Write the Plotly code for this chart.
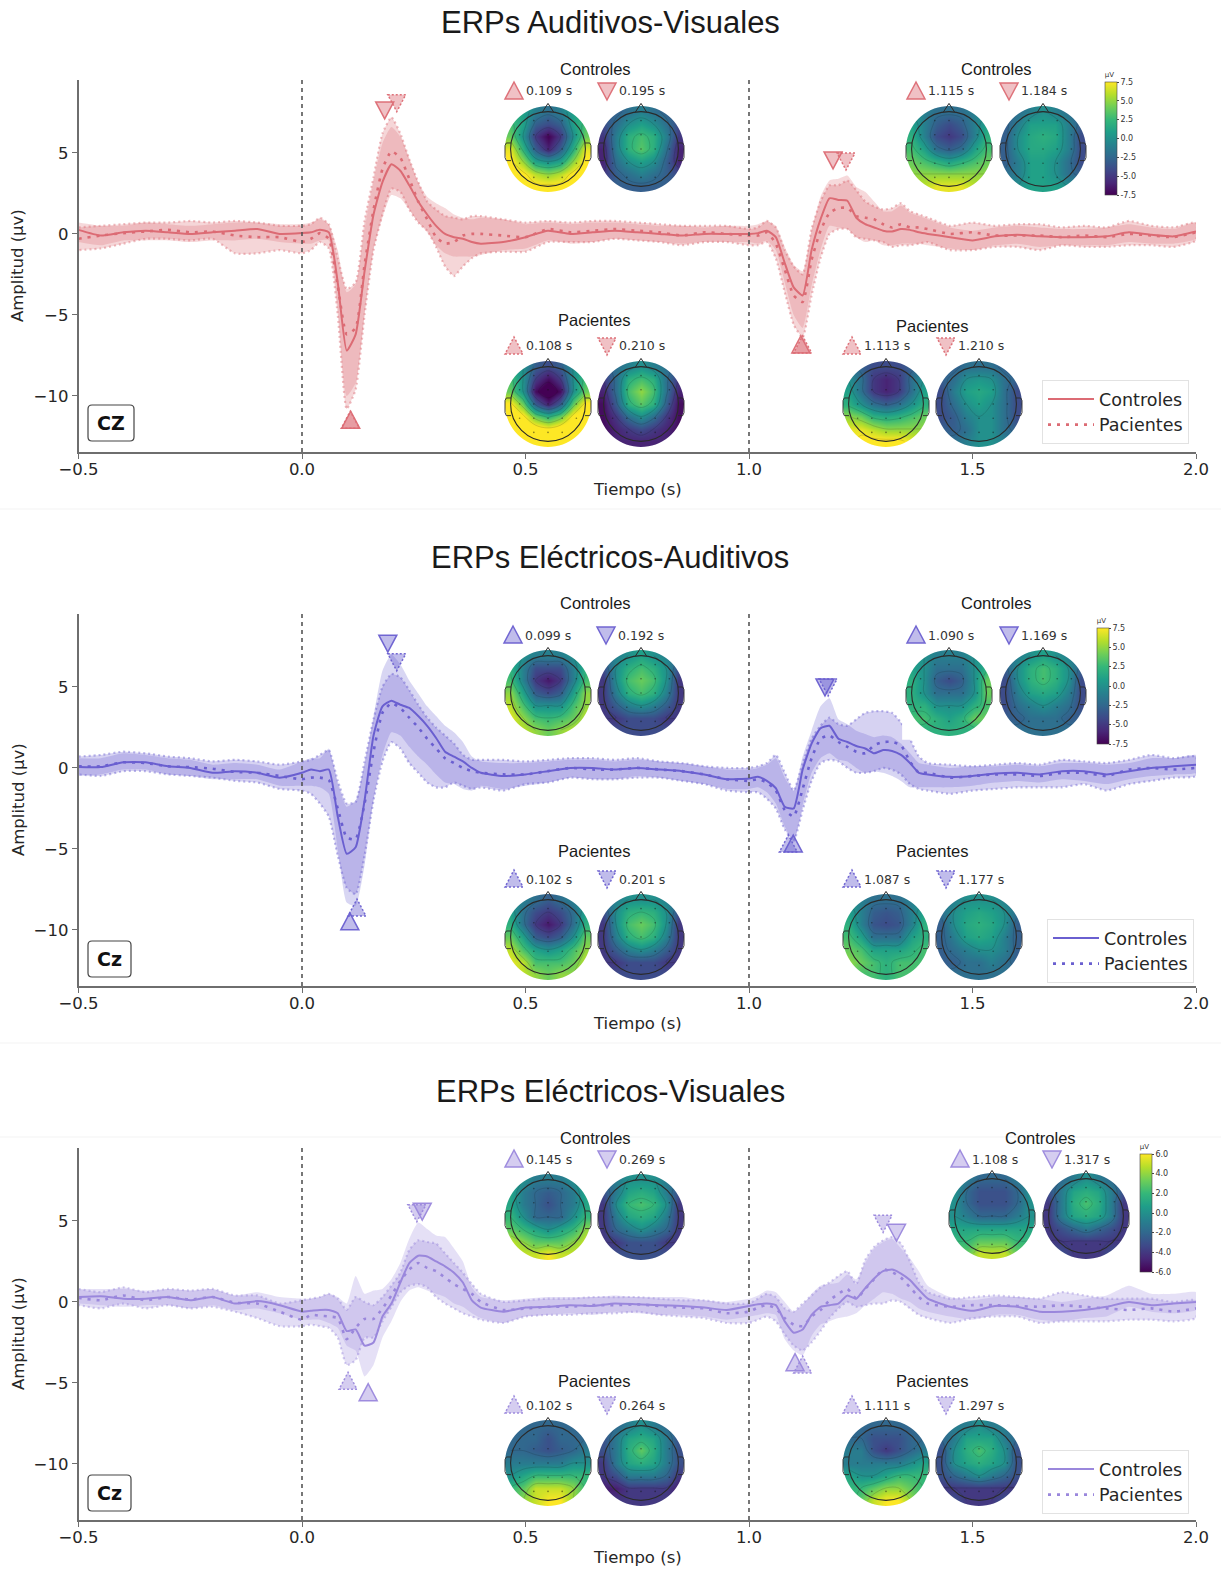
import numpy as np
import plotly.graph_objects as go

W, H = 1221, 1570
TIME = [-.50,-.45,-.40,-.35,-.30,-.25,-.20,-.15,-.10,-.05,
 0,.02,.04,.06,.08,.10,.12,.14,.16,.18,.20,.22,.24,.26,.28,.30,.32,.34,.36,.38,
 .40,.45,.50,.55,.60,.65,.70,.75,.80,.85,.90,.95,
 1,1.02,1.04,1.06,1.08,1.10,1.12,1.14,1.16,1.18,1.20,1.22,1.24,1.26,1.28,1.30,1.32,1.34,1.36,1.38,
 1.40,1.45,1.50,1.55,1.60,1.65,1.70,1.75,1.80,1.85,1.90,1.95,
 2.0]

AV_C_MEAN = [.25,-.10,.10,.20,.10,.00,.10,.20,.30,.00,
 .05,.10,.25,.10,-3.0,-7.2,-6.2,-2.3,1.2,3.2,4.3,3.9,3.0,2.0,1.2,.5,.0,-.2,-.3,-.5,
 -.6,-.5,-.2,.2,.0,.1,.2,.1,.0,-.1,.0,.0,
 .0,.05,.2,-.2,-1.8,-3.3,-3.8,-1.0,.9,2.2,2.1,2.05,1.0,.6,.4,.2,.15,.3,.25,.1,
 .0,-.2,-.4,-.15,-.05,-.15,-.2,-.2,-.15,.1,-.05,-.15,
 .15]
AV_P_MEAN = [-.3,-.1,.05,.15,.25,.1,.15,-.1,-.2,-.2,
 -.5,-.3,.05,-.3,-3.2,-6.2,-5.8,-1.9,1.5,4.0,5.1,4.7,3.4,2.0,.9,-.2,-.6,-.5,-.1,.0,
 .0,-.1,-.2,.3,.1,.2,.3,.2,.1,-.1,.1,.0,
 -.1,-.1,.1,-.6,-2.2,-3.8,-4.2,-1.6,.2,1.3,1.6,1.6,1.1,1.0,.9,.6,.4,.6,.4,.4,
 .3,.0,.1,-.1,-.1,-.1,-.2,-.1,-.2,.0,-.1,-.2,
 .1]
AV_C_HI = [.7,.5,.5,.7,.6,.5,.6,.7,.7,.6,
 .6,.7,.9,.6,-1.0,-3.6,-3.1,.3,3.2,5.6,6.6,6.0,4.7,3.2,2.3,1.9,1.6,1.2,1.0,.9,
 1.0,.9,.6,.7,.6,.7,.7,.6,.5,.5,.4,.5,
 .5,.6,.8,.5,-.8,-1.9,-2.3,.2,2.3,3.3,3.4,3.6,2.9,2.6,2.0,1.4,1.4,1.75,1.3,1.1,
 .9,.4,.2,.4,.5,.4,.3,.3,.4,.6,.4,.3,
 .7]
AV_C_LO = [-.5,-.7,-.4,-.4,-.4,-.5,-.4,-.4,-.3,-.5,
 -.6,-.6,-.4,-.4,-4.5,-10.0,-9.2,-5.0,-1.0,1.0,2.4,2.2,1.5,.7,.1,-.7,-1.2,-1.4,-1.4,-1.4,
 -1.3,-1.0,-.9,-.4,-.6,-.5,-.3,-.4,-.5,-.6,-.5,-.5,
 -.5,-.6,-.4,-1.0,-3.0,-5.0,-5.8,-3.2,-1.0,.5,.4,.3,-.2,-.5,-.4,-.7,-.7,-.6,-.6,-.6,
 -.7,-.9,-1.0,-.7,-.6,-.8,-.7,-.7,-.7,-.5,-.6,-.6,
 -.3]
AV_P_HI = [.4,.5,.6,.7,.7,.8,.7,.8,.7,.5,
 .5,.6,1.0,.6,-1.5,-3.4,-3.0,.8,3.5,6.2,7.2,6.2,4.6,3.2,2.0,1.5,1.1,1.0,.9,1.1,
 1.1,.9,.7,.8,.7,.8,.8,.7,.6,.5,.5,.5,
 .3,.4,.8,.4,-1.0,-2.0,-2.5,.3,2.0,3.0,3.0,3.3,2.7,2.0,1.7,1.5,1.6,1.9,1.4,1.2,
 1.0,.5,.7,.5,.6,.6,.4,.5,.4,.8,.5,.4,
 .7]
AV_P_LO = [-1.0,-.9,-.6,-.3,-.3,-.4,-.3,-1.2,-1.2,-1.0,
 -1.2,-1.0,-.5,-.9,-5.0,-10.8,-9.6,-5.0,-1.0,1.2,2.8,2.6,1.5,.7,.2,-.8,-2.0,-2.6,-2.0,-1.5,
 -1.2,-1.1,-1.1,-.5,-.5,-.5,-.3,-.4,-.5,-.7,-.5,-.5,
 -.7,-.7,-.5,-1.5,-3.6,-5.6,-6.4,-3.8,-1.5,.0,.3,.3,-.2,-.3,-.4,-.5,-.8,-.7,-.7,-.6,
 -.5,-1.0,-1.0,-.8,-.8,-1.0,-.7,-.8,-.8,-.7,-.7,-.8,
 -.4]

EA_C_MEAN = [.05,.05,.35,.35,.1,.0,-.3,-.2,-.3,-.6,
 -.3,-.1,-.2,-.1,-3.0,-5.3,-4.9,-2.0,2.0,3.8,4.15,3.9,3.7,3.2,2.6,1.85,1.0,.7,.4,.0,
 -.3,-.5,-.4,-.2,.0,.0,-.1,.0,-.1,-.2,-.4,-.7,
 -.65,-.55,-.8,-1.25,-2.4,-2.5,-.1,1.5,2.45,2.6,1.8,1.6,1.35,1.2,.9,1.1,1.05,.8,.3,-.3,
 -.4,-.55,-.5,-.35,-.3,-.4,-.2,-.2,-.4,-.2,.0,.1,
 .2]
EA_P_MEAN = [.1,.1,.35,.3,.1,.05,-.05,-.25,-.3,-.5,
 -.7,-.6,-.6,-.75,-2.5,-4.3,-4.4,-2.2,1.0,3.4,4.0,3.7,3.1,2.5,1.8,1.2,.6,.3,.0,-.2,
 -.3,-.4,-.4,-.2,.0,-.1,-.1,.0,-.1,-.2,-.4,-.7,
 -.8,-.7,-.9,-1.4,-2.6,-3.0,-1.3,.6,1.8,2.0,1.6,1.3,1.0,.9,1.4,1.6,1.6,1.4,.4,-.3,
 -.3,-.6,-.5,-.4,-.4,-.5,-.3,-.3,-.5,-.1,.0,-.1,
 .0]
EA_C_HI = [.6,.6,.9,.8,.6,.5,.2,.3,.2,-.1,
 .4,.6,.6,1.2,-1.0,-2.4,-2.0,.2,3.2,6.0,7.0,6.4,5.4,4.6,3.8,3.2,2.6,2.2,1.6,.7,
 .4,.3,.3,.4,.5,.5,.4,.5,.4,.3,.1,-.1,
 -.1,.0,.2,.6,-.6,-1.4,.7,2.3,3.8,4.3,3.0,2.7,2.3,2.1,1.9,2.0,1.9,1.5,.9,.3,
 .2,.0,.1,.1,.2,.1,.3,.3,.2,.3,.6,.6,
 .8]
EA_C_LO = [-.5,-.4,-.1,-.1,-.4,-.5,-.7,-.7,-.7,-1.1,
 -1.1,-1.1,-1.2,-1.6,-5.0,-8.3,-8.5,-6.0,-2.0,.8,2.2,2.0,1.3,.7,.2,-.4,-.9,-1.0,-1.3,-1.4,
 -1.1,-1.3,-1.1,-.9,-.6,-.7,-.7,-.5,-.6,-.8,-1.0,-1.3,
 -1.3,-1.2,-1.5,-2.2,-3.6,-4.6,-2.3,-.3,.6,.9,.5,.4,.0,-.3,-.2,-.3,-.5,-.8,-1.2,-1.2,
 -1.2,-1.2,-1.1,-.9,-.8,-.9,-.7,-.8,-1.0,-.7,-.5,-.4,
 -.3]
EA_P_HI = [.7,.8,1.0,.9,.7,.6,.4,.5,.4,.2,
 .4,.5,.8,1.1,-.8,-2.2,-2.1,.4,3.0,5.0,5.8,5.6,4.8,3.9,3.1,2.5,2.0,1.5,.8,.5,
 .5,.5,.4,.5,.6,.6,.5,.6,.4,.3,.1,.0,
 .0,.1,.3,.8,-.3,-1.4,.3,1.8,2.6,3.1,2.7,2.6,3.0,3.4,3.5,3.5,3.4,2.8,1.8,.7,
 .3,.2,.1,.2,.3,.2,.5,.4,.3,.5,.8,.6,
 .7]
EA_P_LO = [-.4,-.5,-.2,-.2,-.4,-.5,-.6,-.8,-.9,-1.3,
 -1.4,-1.6,-2.2,-3.0,-5.4,-7.4,-7.8,-5.4,-2.0,.4,1.6,1.2,.3,-.3,-.9,-1.2,-1.2,-.9,-1.1,-1.3,
 -1.2,-1.4,-1.0,-.9,-.6,-.7,-.7,-.6,-.6,-.8,-1.0,-1.4,
 -1.5,-1.5,-1.9,-2.5,-3.8,-4.5,-2.6,-.8,.3,.5,.4,.0,-.3,-.3,-.2,.0,-.1,-.4,-1.0,-1.3,
 -1.4,-1.6,-1.4,-1.3,-1.2,-1.2,-1.2,-1.0,-1.4,-1.0,-.8,-.6,
 -.5]

EV_C_MEAN = [.3,.35,.2,.2,.3,.1,.3,-.1,.05,-.2,
 -.6,-.55,-.5,-.5,-.7,-1.8,-1.7,-2.7,-2.5,-.9,-.1,1.2,2.4,2.85,2.8,2.5,2.2,1.8,1.2,.1,
 -.35,-.6,-.35,-.3,-.2,-.25,-.1,-.15,-.2,-.25,-.35,-.5,
 -.25,-.15,-.1,-.2,-1.2,-1.9,-1.7,-.8,-.3,-.2,-.1,.4,.2,.85,1.45,1.9,2.0,1.75,1.35,.75,
 .2,-.3,-.55,-.25,-.3,-.6,-.6,-.5,-.3,.0,-.2,-.1,
 .0]
EV_P_MEAN = [.25,.1,.4,.1,.3,.15,.3,-.05,-.1,-.6,
 -1.1,-.8,-.85,-.9,-1.0,-2.3,-1.6,-1.05,-1.05,-.4,.4,1.3,2.0,2.4,2.1,1.9,1.5,1.1,.8,.5,
 .0,-.5,-.4,-.3,-.3,-.2,-.2,-.15,-.25,-.35,-.4,-.7,
 -.6,-.35,-.2,-.4,-1.0,-1.4,-1.5,-.9,-.5,.1,.5,.8,.2,.8,1.4,2.0,1.85,1.5,.9,.3,
 -.1,-.3,-.2,-.2,-.25,-.3,-.2,-.3,-.4,-.5,-.4,-.6,
 -.4]
EV_C_HI = [.8,.8,.8,.7,.8,.7,.8,.4,.6,.3,
 .2,.2,.3,.5,.3,-.1,1.6,.5,.7,.8,1.4,2.4,3.9,4.9,4.5,4.1,4.0,3.3,2.5,.9,
 .3,.1,.2,.3,.3,.3,.4,.3,.3,.3,.1,.0,
 .2,.4,.7,.6,.0,-.6,-.2,.5,1.0,1.1,1.2,1.7,1.4,2.4,3.3,3.7,3.9,3.3,2.7,1.9,
 1.0,.3,.1,.3,.3,.2,.0,.2,.4,1.0,.5,.5,
 .6]
EV_C_LO = [-.1,-.2,-.3,-.2,-.2,-.4,-.2,-.5,-.4,-.7,
 -1.1,-1.1,-1.1,-1.3,-1.6,-2.7,-3.0,-4.6,-3.9,-2.2,-1.2,.0,.7,.9,.7,.5,.3,-.1,-.3,-.7,
 -1.0,-1.3,-.9,-.8,-.7,-.8,-.6,-.7,-.8,-.8,-.9,-1.1,
 -.9,-.8,-.7,-.8,-2.3,-3.0,-3.3,-2.1,-1.4,-1.2,-1.0,-.9,-.7,-.2,.2,.6,.5,.2,.0,-.4,
 -.6,-.9,-1.1,-.8,-.8,-1.1,-1.2,-1.0,-.9,-.3,-.6,-.7,
 -.5]
EV_P_HI = [.8,.6,.9,.6,.8,.7,.8,.4,.4,-.1,
 .1,.2,.3,.5,.2,-.5,.3,.0,-.2,.3,1.0,1.8,3.2,3.8,3.7,3.6,3.0,2.4,1.8,1.1,
 .5,.0,.1,.2,.2,.3,.3,.3,.2,.1,.1,-.1,
 -.1,.2,.5,.3,-.4,-.6,-.1,.4,.9,1.2,1.6,1.9,1.1,2.6,3.4,3.8,4.0,3.6,2.5,1.2,
 .6,.2,.3,.4,.3,.2,.6,.4,.2,.2,.2,.0,
 .1]
EV_P_LO = [-.2,-.4,-.1,-.4,-.2,-.4,-.3,-.6,-1.0,-1.5,
 -1.5,-1.4,-1.5,-1.6,-2.2,-3.9,-3.6,-2.2,-2.2,-1.2,-.3,.6,1.0,1.1,.9,.3,-.1,-.4,-.7,-.9,
 -1.1,-1.3,-.9,-.8,-.8,-.7,-.7,-.6,-.8,-.9,-1.0,-1.3,
 -1.3,-1.1,-.9,-1.2,-2.0,-2.7,-3.0,-2.5,-1.8,-1.0,-.4,.0,-.3,-.2,-.1,-.1,.1,.0,-.4,-.8,
 -1.0,-1.3,-1.0,-.9,-.9,-1.3,-1.2,-1.2,-1.2,-1.1,-1.1,-1.2,
 -1.0]

AV_C_PEAKS = [(.109,-11.5,1),(.185,7.65,0),(1.116,-6.85,1),(1.188,4.57,0)]
AV_P_PEAKS = [(.108,-11.5,1),(.212,8.1,0),(1.12,-6.85,1),(1.217,4.5,0)]
EA_C_PEAKS = [(.107,-9.5,1),(.192,7.7,0),(1.099,-4.7,1),(1.17,5.0,0)]
EA_P_PEAKS = [(.123,-8.65,1),(.212,6.55,0),(1.088,-4.7,1),(1.177,5.0,0)]
EV_C_PEAKS = [(.148,-5.6,1),(.269,5.6,0),(1.103,-3.75,1),(1.33,4.3,0)]
EV_P_PEAKS = [(.103,-4.9,1),(.257,5.5,0),(1.12,-3.9,1),(1.30,4.85,0)]

TOPO_AV = [
 [[2,1,-1,-2,-1,1,2],[3,1,-3,-4,-3,1,3],[4,0,-5,-7.5,-5,0,4],[7,2,-3,-6,-3,2,7],[8,5,1,0,1,5,8],[8,8,6,5,6,8,8],[8,8,8,8,8,8,8]],
 [[-3,-3,-2,-1,-2,-3,-3],[-4,-2,0,1,0,-2,-4],[-5,-1,2,3,2,-1,-5],[-6,-1,2,3.5,2,-2,-6],[-6,-2,0,1,0,-3,-6],[-5,-3,-2,-1,-2,-3,-4],[-3,-3,-3,-3,-3,-3,-3]],
 [[0,-1,-2,-2,-2,-1,0],[1,-1,-3,-4,-3,-1,1],[2,-1,-4,-5,-4,-1,2],[3,1,-2,-3,-2,1,3],[4,3,2,1,2,3,4],[5,5,5,5,5,5,5],[6,6,7,7,7,6,6]],
 [[-3,-2,-1,0,-1,-2,-3],[-3,-1,1,1,1,-1,-3],[-3,0,1.5,2,1.5,-1,-4],[-3,0,1.5,1.5,1,-1,-4],[-3,-1,1,1,0,-2,-4],[-2,-1,1,1,0,-2,-3],[-1,0,1,1,1,0,0]],
 [[1,0,-3,-4,-3,0,1],[3,0,-5,-7,-5,0,3],[4,0,-7,-9,-7,0,4],[8,4,-3,-6,-3,4,8],[9,8,4,2,4,8,9],[9,9,9,8,9,9,9],[9,9,9,9,9,9,9]],
 [[-3,-2,-1,0,-1,-2,-3],[-5,-2,2,3,2,-2,-5],[-6,-2,3,5,3,-2,-6],[-7,-3,2,3.5,2,-3,-7],[-7,-5,-2,0,-2,-5,-7],[-7,-6,-5,-4,-5,-6,-7],[-6,-6,-6,-6,-6,-6,-6]],
 [[-2,-3,-4,-4,-4,-3,-2],[0,-2,-5,-6,-5,-2,0],[1,-2,-5,-6,-5,-2,1],[2,0,-2,-3,-2,0,2],[5,4,2,1.5,2,3,4],[7,7,6,5,5,5,5],[7,8,8,8,8,7,6]],
 [[-3,-3,-2,-2,-2,-3,-3],[-3,-2,0,.5,0,-2,-3],[-4,-1,1,1.5,1,-2,-4],[-4,-2,0,1,0,-2,-4],[-4,-3,-1,0,0,-2,-4],[-3,-3,-2,0,0,-2,-3],[-2,-2,-1,0,0,-1,-2]],
]
TOPO_EA = [
 [[1,0,-1,-1,-1,0,1],[2,-1,-4,-4,-4,-1,2],[3,-1,-5,-6.5,-5,-1,3],[5,1,-3,-4,-3,1,5],[6,3,0,0,0,3,5],[7,5,3,2.5,3,4,6],[6,6,5,4,5,6,6]],
 [[-2,-1,0,1,0,-1,-2],[-4,0,2,3,2,0,-4],[-5,0,3,4,3,0,-5],[-5,-1,2,3,2,-1,-5],[-5,-3,-1,0,-1,-3,-5],[-5,-5,-4,-4,-4,-5,-5],[-4,-4,-4,-4,-4,-4,-4]],
 [[1,0,-1,-1,-1,0,1],[1,0,-2,-2,-2,0,2],[2,0,-3,-4,-3,0,4],[2,0,-2,-2,-2,0,4],[2,2,0,0,0,2,3],[3,3,2,1,2,4,4],[2,2,2,2,2,2,2]],
 [[-2,-1,0,1,0,-1,-2],[-3,0,2,3,2,0,-3],[-4,0,2,3,2,0,-4],[-4,-1,1,1.5,1,-1,-4],[-4,-2,-1,0,-1,-2,-4],[-3,-3,-2,-2,-2,-3,-3],[-2,-2,-2,-2,-2,-2,-2]],
 [[0,-1,-2,-3,-2,-1,0],[1,-2,-4,-5,-4,-2,1],[2,-2,-5,-6.5,-5,-2,2],[4,1,-3,-4,-3,0,4],[6,3,1,0,1,3,5],[7,6,3,3,3,4,6],[7,6,5,4,5,5,6]],
 [[-2,-1,0,0,0,-1,-2],[-4,0,2,2.5,2,0,-4],[-5,0,3,4,3,0,-5],[-5,-1,2,3,2,-1,-5],[-5,-3,-1,0,-1,-3,-5],[-5,-5,-4,-4,-4,-5,-5],[-4,-4,-4,-4,-4,-4,-4]],
 [[0,-1,-2,-2,-2,-1,0],[1,-1,-3,-3.5,-3,-1,1],[2,-1,-3.5,-4,-3.5,-1,2],[3,1,-2,-2,-2,1,2],[4,3,1,1,1,2,3],[5,4,3,2,3,3,3],[4,3,3,2,3,3,3]],
 [[-2,-1,0,0,0,-1,-2],[-2,0,1,1.5,1,0,-2],[-3,0,1.5,2,1.5,0,-3],[-3,-1,1,1.5,1,-1,-3],[-3,-2,-1,0,0,-1,-3],[-3,-3,-2,-2,-1,-2,-3],[-2,-2,-2,-2,-2,-2,-2]],
]
TOPO_EV = [
 [[1,0,-1,-1,-1,0,1],[1,-1,-2,-2.5,-2,-1,1],[1,-1,-2,-3,-2,-1,1],[2,0,-2,-2,-2,0,2],[3,2,1,0,1,2,4],[5,4,3,3,3,4,5],[5,5,5,6,5,5,5]],
 [[-2,-1,0,0,0,-1,-2],[-3,-1,1,1.5,1,-1,-3],[-4,0,2,2.5,2,0,-4],[-4,-1,1,1.5,1,-1,-4],[-4,-2,-1,0,-1,-2,-4],[-4,-4,-3,-3,-3,-4,-4],[-3,-3,-3,-3,-3,-3,-3]],
 [[0,-1,-2,-2,-2,-1,0],[0,-2,-3,-3,-3,-2,0],[0,-2,-3,-3,-3,-2,0],[0,-1,-2,-2,-2,-1,0],[1,1,1,1,1,1,1],[2,2,3,3,3,2,2],[3,3,5,5,5,3,3]],
 [[-2,-2,-1,0,-1,-2,-2],[-3,-1,1,1.5,1,-1,-3],[-4,-1,1.5,2.5,1.5,-1,-4],[-4,-1,1,1.5,1,-1,-4],[-4,-3,-2,-1,-2,-3,-4],[-4,-4,-4,-4,-4,-4,-4],[-3,-3,-4,-4,-4,-3,-3]],
 [[-2,-2,-2,-2,-2,-2,-2],[-2,-2,-2,-3,-2,-2,-2],[-2,-2,-2.5,-3,-2.5,-2,-1],[-1,-1,-1,-1,-1,0,0],[0,1,2,2,2,2,2],[2,3,5,5,5,4,2],[2,4,5,6,6,4,3]],
 [[-2,-2,-1,0,-1,-2,-2],[-3,-1,1,1.5,1,-1,-3],[-3,-1,1.5,3,1.5,-1,-3],[-4,-1,1,1.5,1,-1,-3],[-4,-3,-1,-1,-1,-2,-4],[-5,-5,-4,-4,-4,-4,-5],[-4,-4,-4,-4,-4,-4,-4]],
 [[-2,-2,-2,-2,-2,-2,-2],[-2,-2,-3,-3,-3,-2,-2],[-1,-1,-3,-4,-3,-2,-1],[-1,-1,-1,-1,-1,0,1],[1,0,0,1,2,2,2],[2,2,3,4,4,3,2],[1,3,5,6,6,4,2]],
 [[-2,-1,-1,0,-1,-1,-2],[-2,-1,1,1,1,-1,-2],[-3,0,1.5,2.5,1.5,0,-3],[-3,0,1,1.5,1,0,-3],[-3,-2,-1,0,-1,-2,-3],[-4,-4,-4,-4,-4,-4,-4],[-3,-3,-4,-4,-4,-3,-3]],
]
GRID = [-.87,-.58,-.29,0,.29,.58,.87]
SENSOR_X = [-.33,0,.33,-.66,-.33,0,.33,.66,-.66,-.33,0,.33,.66,-.66,-.33,0,.33,.66,-.33,0,.33]
SENSOR_Y = [.66,.66,.66,.33,.33,.33,.33,.33,0,0,0,0,0,-.33,-.33,-.33,-.33,-.33,-.66,-.66,-.66]

TIMES_LBL = {
 'av': ['0.109 s','0.195 s','1.115 s','1.184 s','0.108 s','0.210 s','1.113 s','1.210 s'],
 'ea': ['0.099 s','0.192 s','1.090 s','1.169 s','0.102 s','0.201 s','1.087 s','1.177 s'],
 'ev': ['0.145 s','0.269 s','1.108 s','1.317 s','0.102 s','0.264 s','1.111 s','1.297 s'],
}

PANELS = [
 dict(key='av', title='ERPs Auditivos-Visuales', title_y=23, top=80, bot=452, color='#dc6b74', label='CZ', box=(88,405,134,441),
      data=(AV_C_MEAN,AV_P_MEAN,AV_C_HI,AV_C_LO,AV_P_HI,AV_P_LO), peaks=(AV_C_PEAKS,AV_P_PEAKS), topo=TOPO_AV, zmax=7.5,
      maps=[(548,149),(641,149),(949,149),(1043,149),(548,404),(641,404),(886,404),(979,404)],
      titles=[(595,69,'Controles'),(996,69,'Controles'),(594,320,'Pacientes'),(932,326,'Pacientes')],
      rows=[(91,514,607,916,1009),(346,514,607,852,946)],
      cbar=(1105,69,126), cticks=[7.5,5,2.5,0,-2.5,-5,-7.5], ctext=['7.5','5.0','2.5','0.0','-2.5','-5.0','-7.5'],
      legend=(1042,380)),
 dict(key='ea', title='ERPs Eléctricos-Auditivos', title_y=557, top=614, bot=986, color='#6a5fd0', label='Cz', box=(88,941,131,977),
      data=(EA_C_MEAN,EA_P_MEAN,EA_C_HI,EA_C_LO,EA_P_HI,EA_P_LO), peaks=(EA_C_PEAKS,EA_P_PEAKS), topo=TOPO_EA, zmax=7.5,
      maps=[(548,693),(641,693),(949,693),(1043,693),(548,937),(641,937),(886,937),(979,937)],
      titles=[(595,603,'Controles'),(996,603,'Controles'),(594,851,'Pacientes'),(932,851,'Pacientes')],
      rows=[(635,513,606,916,1009),(879,514,607,852,946)],
      cbar=(1097,615,129), cticks=[7.5,5,2.5,0,-2.5,-5,-7.5], ctext=['7.5','5.0','2.5','0.0','-2.5','-5.0','-7.5'],
      legend=(1047,919)),
 dict(key='ev', title='ERPs Eléctricos-Visuales', title_y=1091, top=1148, bot=1520, color='#9a87dc', label='Cz', box=(88,1475,131,1511),
      data=(EV_C_MEAN,EV_P_MEAN,EV_C_HI,EV_C_LO,EV_P_HI,EV_P_LO), peaks=(EV_C_PEAKS,EV_P_PEAKS), topo=TOPO_EV, zmax=6,
      maps=[(548,1217),(641,1217),(992,1216),(1086,1216),(548,1463),(641,1463),(886,1463),(979,1463)],
      titles=[(595,1138,'Controles'),(1040,1138,'Controles'),(594,1381,'Pacientes'),(932,1381,'Pacientes')],
      rows=[(1159,514,607,960,1052),(1405,514,607,852,946)],
      cbar=(1140,1141,131), cticks=[6,4,2,0,-2,-4,-6], ctext=['6.0','4.0','2.0','0.0','-2.0','-4.0','-6.0'],
      legend=(1042,1450)),
]

FONT = 'DejaVu Sans'
SANS = 'Liberation Sans'
TXT = '#262626'
AX = '#6e6e6e'

def px(x): return x / W
def py(y): return 1 - y / H
def rgba(h, a):
    return f'rgba({int(h[1:3],16)},{int(h[3:5],16)},{int(h[5:7],16)},{a})'

def tri(shapes, xref, yref, xa, ya, up, dotted, col):
    a, b = (-8, 9) if up else (8, -9)
    shapes.append(dict(type='path', xref=xref, yref=yref, xsizemode='pixel', ysizemode='pixel',
                       xanchor=xa, yanchor=ya, path=f'M -9,{a} L 9,{a} L 0,{b} Z',
                       fillcolor=rgba(col, .42), layer='above',
                       line=dict(color=rgba(col, .95), width=1.5, dash='2px,2px' if dotted else 'solid')))

fig = go.Figure()
layout = {}
shapes, annots = [], []
idx = 3
theta = np.linspace(0, 2*np.pi, 73)
hole = ' '.join(('M' if i == 0 else 'L') + f' {np.cos(t):.3f},{np.sin(t):.3f}' for i, t in enumerate(theta)) + ' Z'
MASK = f'M -1.09,-1.09 L 1.09,-1.09 L 1.09,1.09 L -1.09,1.09 Z {hole}'

for pi, p in enumerate(PANELS):
    n = '' if pi == 0 else str(pi + 1)
    xa, ya = 'x' + n, 'y' + n
    col = p['color']
    cm, pm, chi, clo, phi, plo = p['data']
    layout['xaxis' + n] = dict(domain=[px(78.5), px(1196)], range=[-.5, 2.0], anchor=ya, tickvals=[-.5,0,.5,1,1.5,2], tickformat='.1f', automargin=False,
        showgrid=False, zeroline=False, showline=True, linecolor=AX, linewidth=1.5, ticks='outside', tickcolor=AX, ticklen=5, tickwidth=1.2, ticklabelstandoff=-4,
        tickfont=dict(family=FONT, size=16.5, color=TXT))
    layout['yaxis' + n] = dict(domain=[py(p['bot']), py(p['top'])], range=[-13.46, 9.5], anchor=xa, tickvals=[-10,-5,0,5], automargin=False,
        showgrid=False, zeroline=False, showline=True, linecolor=AX, linewidth=1.5, ticks='outside', tickcolor=AX, ticklen=5, tickwidth=1.2,
        tickfont=dict(family=FONT, size=16.5, color=TXT))
    annots.append(dict(text='Tiempo (s)', xref='paper', yref='paper', x=px(637), y=py(p['bot'] + 37), showarrow=False,
                       font=dict(family=FONT, size=16.5, color=TXT), xanchor='center', yanchor='middle'))
    annots.append(dict(text='Amplitud (µv)', xref='paper', yref='paper', x=px(18), y=py(p['top'] + 186), showarrow=False, textangle=-90,
                       font=dict(family=FONT, size=16.5, color=TXT), xanchor='center', yanchor='middle'))
    lname = 'legend' + n
    fig.add_trace(go.Scatter(x=TIME+TIME[::-1], y=chi+clo[::-1], xaxis=xa, yaxis=ya, fill='toself', fillcolor=rgba(col,.26),
        mode='lines', line=dict(width=0, shape='spline', smoothing=.5), showlegend=False, hoverinfo='skip'))
    fig.add_trace(go.Scatter(x=TIME+TIME[::-1], y=phi+plo[::-1], xaxis=xa, yaxis=ya, fill='toself', fillcolor=rgba(col,.28),
        mode='lines', line=dict(width=2.2, color=rgba(col,.45), dash='2px,3px', shape='spline', smoothing=.5), showlegend=False, hoverinfo='skip'))
    fig.add_trace(go.Scatter(x=TIME, y=cm, xaxis=xa, yaxis=ya, mode='lines', name='Controles', legend=lname,
        line=dict(color=col, width=2, shape='spline', smoothing=.5)))
    fig.add_trace(go.Scatter(x=TIME, y=pm, xaxis=xa, yaxis=ya, mode='lines', name='Pacientes', legend=lname,
        line=dict(color=col, width=2.6, dash='3px,6px', shape='spline', smoothing=.5)))
    for t0 in (0, 1):
        shapes.append(dict(type='line', xref=xa, yref=ya + ' domain', x0=t0, x1=t0, y0=0, y1=1, layer='above',
                           line=dict(color='#555555', width=1.6, dash='4px,4px')))
    for dotted, peaks in enumerate(p['peaks']):
        for t, v, up in peaks:
            tri(shapes, xa, ya, t, v, bool(up), bool(dotted), col)
    lx, ly = p['legend']
    layout[lname] = dict(x=px(lx), y=py(ly), xanchor='left', yanchor='top', bgcolor='white', bordercolor='#e2e2e2', borderwidth=1,
                         font=dict(family=FONT, size=17.5, color=TXT), itemwidth=46, tracegroupgap=0)
    annots.append(dict(text=p['title'], xref='paper', yref='paper', x=px(610), y=py(p['title_y']), showarrow=False,
                       font=dict(family=SANS, size=31, color='#1a1a1a'), xanchor='center', yanchor='middle'))
    bx0, by0, bx1, by1 = p['box']
    r = 4
    X0, X1, Y0, Y1 = px(bx0), px(bx1), py(by0), py(by1)
    rx, ry = r / W, r / H
    shapes.append(dict(type='path', xref='paper', yref='paper', layer='above', fillcolor='white', line=dict(color='#444444', width=1.2),
        path=f'M {X0+rx},{Y0} L {X1-rx},{Y0} Q {X1},{Y0} {X1},{Y0-ry} L {X1},{Y1+ry} Q {X1},{Y1} {X1-rx},{Y1} L {X0+rx},{Y1} Q {X0},{Y1} {X0},{Y1+ry} L {X0},{Y0-ry} Q {X0},{Y0} {X0+rx},{Y0} Z'))
    annots.append(dict(text=f"<b>{p['label']}</b>", xref='paper', yref='paper', x=px((bx0+bx1)/2), y=py((by0+by1)/2), showarrow=False,
                       font=dict(family=FONT, size=19, color='#111111'), xanchor='center', yanchor='middle'))
    for tx, ty, s in p['titles']:
        annots.append(dict(text=s, xref='paper', yref='paper', x=px(tx), y=py(ty), showarrow=False,
                           font=dict(family=SANS, size=16.5, color='#1a1a1a'), xanchor='center', yanchor='middle'))
    labels = TIMES_LBL[p['key']]
    k = 0
    for row_i, row in enumerate(p['rows']):
        ry_ = row[0]
        for j, tx in enumerate(row[1:]):
            up = j % 2 == 0
            tri(shapes, 'paper', 'paper', px(tx), py(ry_), up, row_i == 1, col)
            annots.append(dict(text=labels[k], xref='paper', yref='paper', x=px(tx + 10), y=py(ry_), showarrow=False,
                               font=dict(family=FONT, size=12.5, color='#333333'), xanchor='left', yanchor='middle'))
            k += 1
    lim = p['zmax']
    size = 2.5 if lim == 7.5 else 2
    for mi, (cx, cy) in enumerate(p['maps']):
        idx += 1
        axx, axy = f'x{idx}', f'y{idx}'
        hw = 47.3
        for ax, dom in (('xaxis', [px(cx-hw), px(cx+hw)]), ('yaxis', [py(cy+hw), py(cy-hw)])):
            layout[f'{ax}{idx}'] = dict(domain=dom, range=[-1.1, 1.1], visible=False, automargin=False, anchor=(axy if ax == 'xaxis' else axx), fixedrange=True)
        z = p['topo'][mi][::-1]
        first = mi == 0
        cb = None
        if first:
            cxx, cyy, cl = p['cbar']
            cb = dict(x=px(cxx), xanchor='left', xref='paper', y=py(cyy), yanchor='top', yref='paper', thickness=12, thicknessmode='pixels',
                      len=cl, lenmode='pixels', xpad=0, ypad=0, tickvals=p['cticks'], ticktext=p['ctext'], ticks='outside', ticklen=2,
                      tickfont=dict(family=FONT, size=8, color='#333333'), outlinewidth=.6, outlinecolor='#444444',
                      title=dict(text='µV', side='top', font=dict(family=FONT, size=7, color='#333333')))
        fig.add_trace(go.Heatmap(x=GRID, y=GRID, z=z, xaxis=axx, yaxis=axy, colorscale='Viridis', zmin=-lim, zmax=lim, zsmooth='best',
                                 showscale=first, colorbar=cb, hoverinfo='skip'))
        fig.add_trace(go.Contour(x=GRID, y=GRID, z=z, xaxis=axx, yaxis=axy, showscale=False, showlegend=False, hoverinfo='skip',
                                 contours=dict(coloring='none', start=-lim, end=lim, size=size),
                                 line=dict(color='rgba(20,20,20,.22)', width=.7, smoothing=1)))
        fig.add_trace(go.Scatter(x=SENSOR_X, y=SENSOR_Y, xaxis=axx, yaxis=axy, mode='markers', showlegend=False, hoverinfo='skip',
                                 marker=dict(size=1.6, color='rgba(20,20,20,.5)')))
        shapes.append(dict(type='path', xref=axx, yref=axy, path=MASK, fillcolor='white', line=dict(width=0), layer='above'))
        shapes.append(dict(type='circle', xref=axx, yref=axy, x0=-.87, x1=.87, y0=-.87, y1=.87, layer='above', line=dict(color='#2a2a2a', width=1.1)))
        shapes.append(dict(type='path', xref=axx, yref=axy, path='M -.13,.86 L 0,1.06 L .13,.86', layer='above', line=dict(color='#2a2a2a', width=1)))
        for s in (-1, 1):
            shapes.append(dict(type='path', xref=axx, yref=axy, layer='above', line=dict(color='#2a2a2a', width=.9),
                               path=f'M {s*.86},.14 L {s*.97},.14 L {s*1.0},.08 L {s*1.0},-.2 L {s*.97},-.27 L {s*.86},-.27'))

for sep in (509, 1043, 1137):
    shapes.append(dict(type='line', xref='paper', yref='paper', x0=0, x1=1, y0=py(sep), y1=py(sep), layer='below', line=dict(color='#f3f3f3', width=1)))

fig.update_layout(width=W, height=H, autosize=False, margin=dict(l=0, r=0, t=0, b=0, pad=0), paper_bgcolor='white', plot_bgcolor='rgba(0,0,0,0)',
                  shapes=shapes, annotations=annots, hovermode=False, **layout)
fig.write_html('out.html', config={'displayModeBar': False}, post_script="document.body.style.margin='0';document.documentElement.style.overflow='hidden';")
